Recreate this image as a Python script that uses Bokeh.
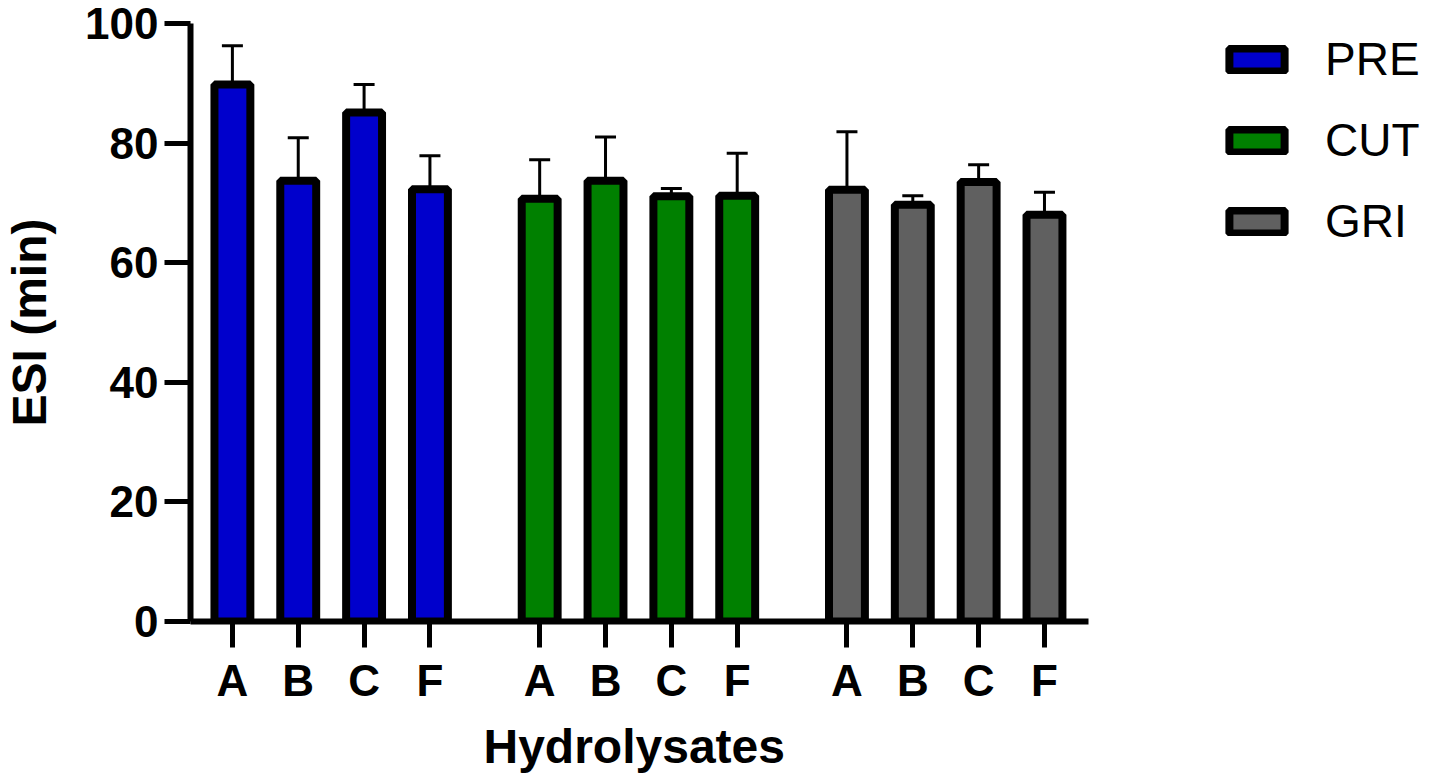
from bokeh.plotting import figure
from bokeh.models import (ColumnDataSource, Range1d, Whisker, TeeHead, FixedTicker,
                          Legend, LegendItem, Title)
from bokeh.embed import file_html
from bokeh.resources import INLINE

# ---- data ----
groups = ["PRE", "CUT", "GRI"]
samples = ["A", "B", "C", "F"]
pre_mean = [89.8, 73.7, 85.1, 72.3]
pre_sd = [6.5, 7.2, 4.7, 5.6]
cut_mean = [70.7, 73.7, 71.1, 71.2]
cut_sd = [6.5, 7.3, 1.3, 7.1]
gri_mean = [72.2, 69.7, 73.5, 68.0]
gri_sd = [9.7, 1.5, 2.9, 3.8]
colors = ["#0000CC", "#008000", "#606060"]
y_ticks = [0, 20, 40, 60, 80, 100]

means = [pre_mean, cut_mean, gri_mean]
sds = [pre_sd, cut_sd, gri_sd]

# layout of slots: 3 units between bars, 14 units between groups
STEP = 3
GROUP = 14
BAR_W = 1.636

FONT = "Liberation Sans"

p = figure(width=1430, height=782, output_backend="svg", toolbar_location=None,
           x_range=Range1d(-1.909, 54.36), y_range=Range1d(0, 100),
           min_border_left=187, min_border_top=23, min_border_bottom=161,
           min_border_right=5)
p.outline_line_color = None
p.grid.visible = False
p.background_fill_color = "white"
p.border_fill_color = "white"

tick_pos = []
tick_lab = {}
renderers = []
for g, name in enumerate(groups):
    xs = [g * GROUP + i * STEP for i in range(len(samples))]
    tops = means[g]
    ups = [m + s for m, s in zip(means[g], sds[g])]
    src = ColumnDataSource(dict(x=xs, top=tops, upper=ups, label=samples))
    r = p.vbar(x="x", top="top", bottom=0, width=BAR_W, source=src,
               fill_color=colors[g], line_color="black", line_width=8)
    renderers.append(r)
    w = Whisker(base="x", lower="top", upper="upper", source=src,
                line_color="black", line_width=3,
                upper_head=TeeHead(size=21, line_width=3, line_color="black"),
                lower_head=None, level="underlay")
    p.add_layout(w)
    for x, s in zip(xs, samples):
        tick_pos.append(x)
        tick_lab[x] = s

# x axis (line limited to the bar area)
xa = p.xaxis[0]
xa.ticker = FixedTicker(ticks=tick_pos)
xa.major_label_overrides = tick_lab
xa.bounds = (-1.909, 39.0)
xa.major_label_text_font = FONT
xa.major_label_text_font_style = "bold"
xa.major_label_text_font_size = "44px"
xa.major_label_text_color = "black"
xa.major_label_standoff = 8
xa.axis_line_width = 6
xa.axis_line_color = "black"
xa.major_tick_line_width = 5
xa.major_tick_line_color = "black"
xa.major_tick_out = 26
xa.major_tick_in = 0
xa.minor_tick_line_color = None

# x axis title, centred under the bar area
p.add_layout(Title(text="Hydrolysates", align="left", offset=293, standoff=20,
                   text_font=FONT, text_font_style="bold", text_font_size="48px",
                   text_color="black"), "below")

ya = p.yaxis[0]
ya.ticker = FixedTicker(ticks=y_ticks)
ya.axis_label = "ESI (min)"
ya.axis_label_text_font = FONT
ya.axis_label_text_font_style = "bold"
ya.axis_label_text_font_size = "48px"
ya.axis_label_text_color = "black"
ya.axis_label_standoff = 26
ya.major_label_text_font = FONT
ya.major_label_text_font_style = "bold"
ya.major_label_text_font_size = "44px"
ya.major_label_text_color = "black"
ya.major_label_standoff = 6
ya.axis_line_width = 6
ya.axis_line_color = "black"
ya.major_tick_line_width = 5
ya.major_tick_line_color = "black"
ya.major_tick_out = 26
ya.major_tick_in = 0
ya.minor_tick_line_color = None

legend = Legend(items=[LegendItem(label=n, renderers=[r]) for n, r in zip(groups, renderers)],
                location=(1032, 373), glyph_width=69, glyph_height=29,
                label_height=53, spacing=27, label_standoff=34, padding=0, margin=0,
                label_text_font=FONT, label_text_font_size="46px",
                label_text_color="black",
                border_line_color=None, background_fill_alpha=0)
p.add_layout(legend, "center")

open("out.html", "w").write(file_html(p, INLINE))
